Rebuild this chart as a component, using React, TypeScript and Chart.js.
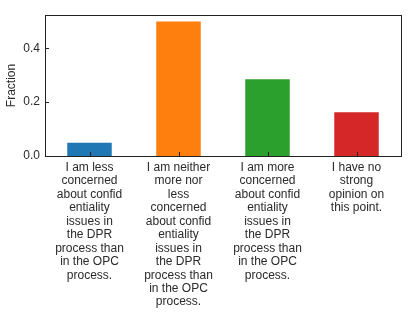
import { useEffect, useRef } from "react";
import { Chart, registerables } from "chart.js";
Chart.register(...registerables);

const categories: string[][] = [
  ["I am less", "concerned", "about confid", "entiality", "issues in", "the DPR", "process than", "in the OPC", "process."],
  ["I am neither", "more nor", "less", "concerned", "about confid", "entiality", "issues in", "the DPR", "process than", "in the OPC", "process."],
  ["I am more", "concerned", "about confid", "entiality", "issues in", "the DPR", "process than", "in the OPC", "process."],
  ["I have no", "strong", "opinion on", "this point."],
];
const fractions = [0.049, 0.5, 0.285, 0.163];
const barColors = ["#1f77b4", "#ff7f0e", "#2ca02c", "#d62728"];
const yTicks = [0, 0.2, 0.4];
const yMax = 0.524;

const FONT = "'Liberation Sans', Arial, sans-serif";
const FS = 12;

const framePlugin = {
  id: "frameTicks",
  afterDraw(chart: any) {
    const { ctx, chartArea } = chart;
    const { left, right, top, bottom } = chartArea;
    ctx.save();
    ctx.strokeStyle = "#222";
    ctx.lineWidth = 1;
    ctx.strokeRect(Math.round(left) + 0.5, Math.round(top) + 0.5, Math.round(right - left), Math.round(bottom - top));
    const tl = 4;
    const xs = chart.scales.x;
    const ys = chart.scales.y;
    ctx.beginPath();
    xs.ticks.forEach((_t: any, i: number) => {
      const x = Math.round(xs.getPixelForTick(i)) + 0.5;
      ctx.moveTo(x, bottom);
      ctx.lineTo(x, bottom - tl);
    });
    ys.ticks.forEach((t: any) => {
      const y = Math.round(ys.getPixelForValue(t.value)) + 0.5;
      ctx.moveTo(left, y);
      ctx.lineTo(left + tl, y);
    });
    ctx.stroke();
    ctx.restore();
  },
};

export default function App() {
  const ref = useRef<HTMLCanvasElement | null>(null);
  useEffect(() => {
    if (!ref.current) return;
    const chart = new Chart(ref.current, {
      type: "bar",
      data: {
        labels: categories,
        datasets: [
          {
            data: fractions,
            backgroundColor: barColors,
            borderWidth: 0,
            barPercentage: 0.5,
            categoryPercentage: 1,
          },
        ],
      },
      options: {
        animation: false,
        responsive: false,
        maintainAspectRatio: false,
        layout: { padding: { left: 0, right: 14, top: 15, bottom: 0 } },
        plugins: { legend: { display: false }, tooltip: { enabled: false } },
        scales: {
          x: {
            grid: { display: false, drawTicks: false },
            border: { display: false },
            ticks: {
              color: "#2a2a2a",
              font: { family: FONT, size: FS, lineHeight: 1.12 },
              padding: 5,
              maxRotation: 0,
              minRotation: 0,
              autoSkip: false,
            },
            afterFit: (s: any) => {
              s.height = 156;
            },
          },
          y: {
            min: 0,
            max: yMax,
            grid: { display: false, drawTicks: false },
            border: { display: false },
            afterBuildTicks: (s: any) => {
              s.ticks = yTicks.map((v) => ({ value: v }));
            },
            ticks: {
              color: "#2a2a2a",
              font: { family: FONT, size: FS },
              padding: 5,
              callback: (v: any) => Number(v).toFixed(1),
            },
            title: {
              display: true,
              text: "Fraction",
              color: "#2a2a2a",
              font: { family: FONT, size: FS },
              padding: { top: 4, bottom: 0 },
            },
            afterFit: (s: any) => {
              s.width = 45;
            },
          },
        },
      },
      plugins: [framePlugin],
    });
    return () => chart.destroy();
  }, []);
  return (
    <div style={{ position: "fixed", left: 0, top: 0, width: 415, height: 312, background: "#fff" }}>
      <canvas ref={ref} width={415} height={312} style={{ width: 415, height: 312 }} />
    </div>
  );
}
